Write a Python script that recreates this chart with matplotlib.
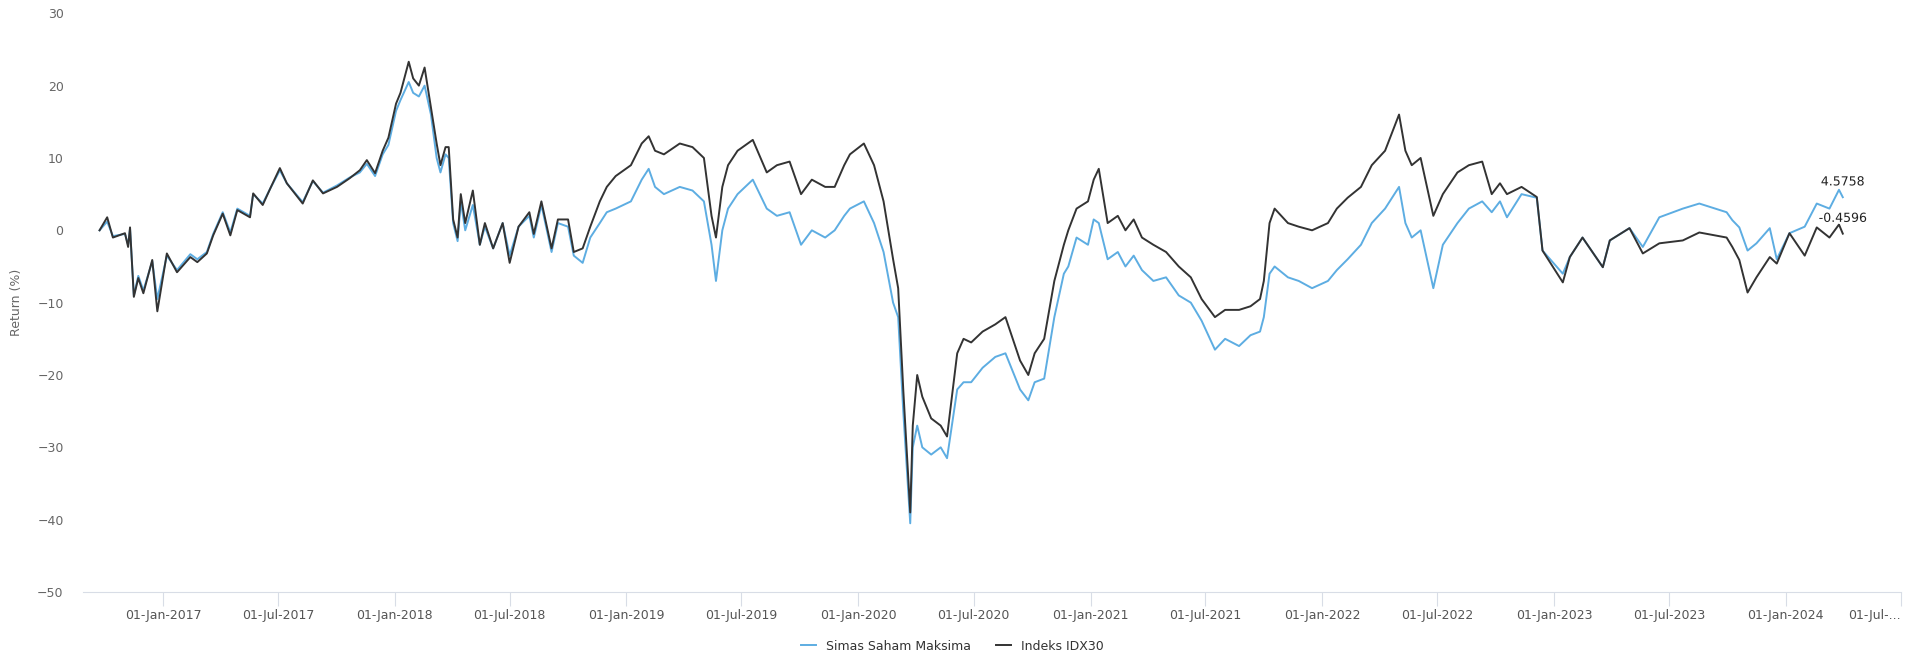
import matplotlib
matplotlib.use("Agg")
import matplotlib.pyplot as plt
import matplotlib.patheffects as pe
import pandas as pd

# dates and cumulative returns (%)
dates = [
    "2016-09-23", "2016-10-05", "2016-10-14", "2016-11-02", "2016-11-07", "2016-11-10",
    "2016-11-16", "2016-11-23", "2016-12-01", "2016-12-15", "2016-12-23", "2017-01-07",
    "2017-01-23", "2017-02-13", "2017-02-24", "2017-03-11", "2017-03-21", "2017-04-05",
    "2017-04-17", "2017-04-28", "2017-05-18", "2017-05-23", "2017-06-07", "2017-06-19",
    "2017-07-04", "2017-07-15", "2017-08-09", "2017-08-25", "2017-09-10", "2017-10-02",
    "2017-10-22", "2017-11-07", "2017-11-18", "2017-12-01", "2017-12-13", "2017-12-22",
    "2018-01-03", "2018-01-10", "2018-01-23", "2018-01-30", "2018-02-08", "2018-02-17",
    "2018-02-27", "2018-03-08", "2018-03-14", "2018-03-22", "2018-03-27", "2018-04-03",
    "2018-04-10", "2018-04-15", "2018-04-22", "2018-05-04", "2018-05-15", "2018-05-23",
    "2018-06-05", "2018-06-20", "2018-07-01", "2018-07-15", "2018-08-01", "2018-08-08",
    "2018-08-20", "2018-09-05", "2018-09-15", "2018-10-01", "2018-10-10", "2018-10-24",
    "2018-11-05", "2018-11-20", "2018-12-01", "2018-12-15", "2019-01-08", "2019-01-25",
    "2019-02-05", "2019-02-15", "2019-03-01", "2019-03-26", "2019-04-15", "2019-05-03",
    "2019-05-15", "2019-05-22", "2019-06-01", "2019-06-10", "2019-06-25", "2019-07-19",
    "2019-08-10", "2019-08-26", "2019-09-15", "2019-10-03", "2019-10-20", "2019-11-10",
    "2019-11-25", "2019-12-10", "2019-12-19", "2020-01-10", "2020-01-26", "2020-02-10",
    "2020-02-25", "2020-03-04", "2020-03-12", "2020-03-23", "2020-03-27", "2020-04-03",
    "2020-04-11", "2020-04-25", "2020-05-10", "2020-05-20", "2020-06-05", "2020-06-15",
    "2020-06-27", "2020-07-15", "2020-08-04", "2020-08-20", "2020-09-12", "2020-09-25",
    "2020-10-05", "2020-10-20", "2020-11-05", "2020-11-20", "2020-11-27", "2020-12-10",
    "2020-12-28", "2021-01-06", "2021-01-14", "2021-01-28", "2021-02-13", "2021-02-25",
    "2021-03-10", "2021-03-23", "2021-04-10", "2021-04-30", "2021-05-20", "2021-06-08",
    "2021-06-25", "2021-07-16", "2021-08-01", "2021-08-23", "2021-09-10", "2021-09-25",
    "2021-10-01", "2021-10-10", "2021-10-18", "2021-11-08", "2021-11-25", "2021-12-16",
    "2022-01-10", "2022-01-24", "2022-02-10", "2022-03-03", "2022-03-20", "2022-04-10",
    "2022-05-02", "2022-05-12", "2022-05-22", "2022-06-05", "2022-06-25", "2022-07-10",
    "2022-08-02", "2022-08-20", "2022-09-10", "2022-09-25", "2022-10-08", "2022-10-19",
    "2022-11-11", "2022-12-05", "2022-12-14", "2023-01-15", "2023-01-26", "2023-02-15",
    "2023-03-19", "2023-03-30", "2023-04-30", "2023-05-21", "2023-06-16", "2023-07-23",
    "2023-08-18", "2023-09-30", "2023-10-09", "2023-10-20", "2023-11-02", "2023-11-16",
    "2023-12-07", "2023-12-18", "2024-01-07", "2024-01-31", "2024-02-19", "2024-03-10",
    "2024-03-25", "2024-03-31",
]

maksima = [
    0.0, 1.2, -0.8, -0.5, -2.0, 0.2,
    -9.0, -6.3, -8.3, -4.3, -9.5, -3.5,
    -5.5, -3.3, -4.0, -3.0, -0.5, 2.5,
    -0.3, 3.0, 2.0, 5.0, 3.7, 5.8,
    8.3, 6.5, 3.9, 6.8, 5.2, 6.2,
    7.3, 8.0, 9.2, 7.5, 10.5, 11.8,
    16.5, 18.0, 20.5, 19.0, 18.5, 20.0,
    16.0, 10.0, 8.0, 10.5, 10.0, 1.0,
    -1.5, 4.0, 0.0, 3.5, -2.0, 0.5,
    -2.5, 1.0, -3.5, 0.5, 2.0, -1.0,
    3.5, -3.0, 1.0, 0.5, -3.5, -4.5,
    -1.0, 1.0, 2.5, 3.0, 4.0, 7.0,
    8.5, 6.0, 5.0, 6.0, 5.5, 4.0,
    -2.0, -7.0, 0.0, 3.0, 5.0, 7.0,
    3.0, 2.0, 2.5, -2.0, 0.0, -1.0,
    0.0, 2.0, 3.0, 4.0, 1.0, -3.0,
    -10.0, -12.0, -25.0, -40.5, -30.0, -27.0,
    -30.0, -31.0, -30.0, -31.5, -22.0, -21.0,
    -21.0, -19.0, -17.5, -17.0, -22.0, -23.5,
    -21.0, -20.5, -12.0, -6.0, -5.0, -1.0,
    -2.0, 1.5, 1.0, -4.0, -3.0, -5.0,
    -3.5, -5.5, -7.0, -6.5, -9.0, -10.0,
    -12.5, -16.5, -15.0, -16.0, -14.5, -14.0,
    -12.0, -6.0, -5.0, -6.5, -7.0, -8.0,
    -7.0, -5.5, -4.0, -2.0, 1.0, 3.0,
    6.0, 1.0, -1.0, 0.0, -8.0, -2.0,
    1.0, 3.0, 4.0, 2.5, 4.0, 1.8,
    5.0, 4.5, -2.8, -6.0, -3.7, -1.0,
    -5.1, -1.4, 0.3, -2.3, 1.8, 3.0,
    3.7, 2.5, 1.4, 0.4, -2.8, -1.8,
    0.3, -4.0, -0.4, 0.5, 3.7, 3.0,
    5.6, 4.5758,
]

idx30 = [
    0.0, 1.8, -1.0, -0.4, -2.3, 0.4,
    -9.2, -6.6, -8.7, -4.1, -11.2, -3.2,
    -5.8, -3.7, -4.4, -3.2, -0.7, 2.3,
    -0.7, 2.8, 1.8, 5.1, 3.5, 5.8,
    8.6, 6.5, 3.7, 6.9, 5.1, 6.0,
    7.2, 8.3, 9.7, 7.9, 11.0, 12.8,
    17.5, 19.0, 23.3, 21.0, 20.0, 22.5,
    17.0, 12.0, 9.0, 11.5, 11.5, 1.5,
    -1.0, 5.0, 1.0, 5.5, -2.0, 1.0,
    -2.5, 1.0, -4.5, 0.5, 2.5, -0.5,
    4.0, -2.5, 1.5, 1.5, -3.0, -2.5,
    0.5, 4.0, 6.0, 7.5, 9.0, 12.0,
    13.0, 11.0, 10.5, 12.0, 11.5, 10.0,
    2.0, -1.0, 6.0, 9.0, 11.0, 12.5,
    8.0, 9.0, 9.5, 5.0, 7.0, 6.0,
    6.0, 9.0, 10.5, 12.0, 9.0, 4.0,
    -4.0, -8.0, -22.0, -39.0, -27.0, -20.0,
    -23.0, -26.0, -27.0, -28.5, -17.0, -15.0,
    -15.5, -14.0, -13.0, -12.0, -18.0, -20.0,
    -17.0, -15.0, -7.0, -2.0, 0.0, 3.0,
    4.0, 7.0, 8.5, 1.0, 2.0, 0.0,
    1.5, -1.0, -2.0, -3.0, -5.0, -6.5,
    -9.5, -12.0, -11.0, -11.0, -10.5, -9.5,
    -7.0, 1.0, 3.0, 1.0, 0.5, 0.0,
    1.0, 3.0, 4.5, 6.0, 9.0, 11.0,
    16.0, 11.0, 9.0, 10.0, 2.0, 5.0,
    8.0, 9.0, 9.5, 5.0, 6.5, 5.0,
    6.0, 4.6, -2.8, -7.2, -3.7, -1.0,
    -5.1, -1.4, 0.3, -3.2, -1.8, -1.4,
    -0.3, -1.0, -2.3, -4.1, -8.6, -6.5,
    -3.7, -4.6, -0.4, -3.5, 0.4, -1.0,
    0.8, -0.4596,
]

x = pd.to_datetime(dates)

fig = plt.figure(figsize=(19.05, 6.64), dpi=100)
ax = fig.add_axes([0.0436, 0.1084, 0.9544, 0.8716])

ax.plot(x, maksima, color="#5dade2", lw=1.4, label="Simas Saham Maksima")
ax.plot(x, idx30, color="#333333", lw=1.4, label="Indeks IDX30")

ax.set_ylim(-50, 30)
ax.set_yticks(range(-50, 31, 10))
ax.set_xlim(pd.Timestamp("2016-08-28"), pd.Timestamp("2024-07-01"))

ticks = pd.date_range("2017-01-01", "2024-07-01", freq="6MS")
ax.set_xticks(ticks)
labels = [t.strftime("%d-%b-%Y") for t in ticks]
labels[-1] = "01-Jul-..."
ax.set_xticklabels(labels)
ax.get_xticklabels()[-1].set_ha("right")

for s in ["top", "right", "left"]:
    ax.spines[s].set_visible(False)
ax.spines["bottom"].set_color("#d8dde6")
ax.tick_params(axis="y", length=0, pad=14, labelsize=9, labelcolor="#666666")
ax.tick_params(axis="x", length=10, color="#d8dde6", pad=2, labelsize=9, labelcolor="#555555")
ax.set_ylabel("Return (%)", fontsize=9, color="#666666", labelpad=10)

stroke = [pe.withStroke(linewidth=3, foreground="white")]
for series in (maksima, idx30):
    ax.annotate(f"{series[-1]:.4f}", (x[-1], series[-1]), xytext=(0, 11),
                textcoords="offset points", ha="center", va="center",
                fontsize=9, color="#222222", path_effects=stroke)

fig.legend(loc="lower center", bbox_to_anchor=(0.5, 0.0), ncol=2, frameon=False,
           fontsize=9, handlelength=1.2, columnspacing=2.0, labelcolor="#333333")

fig.savefig("out.png", dpi=100)
